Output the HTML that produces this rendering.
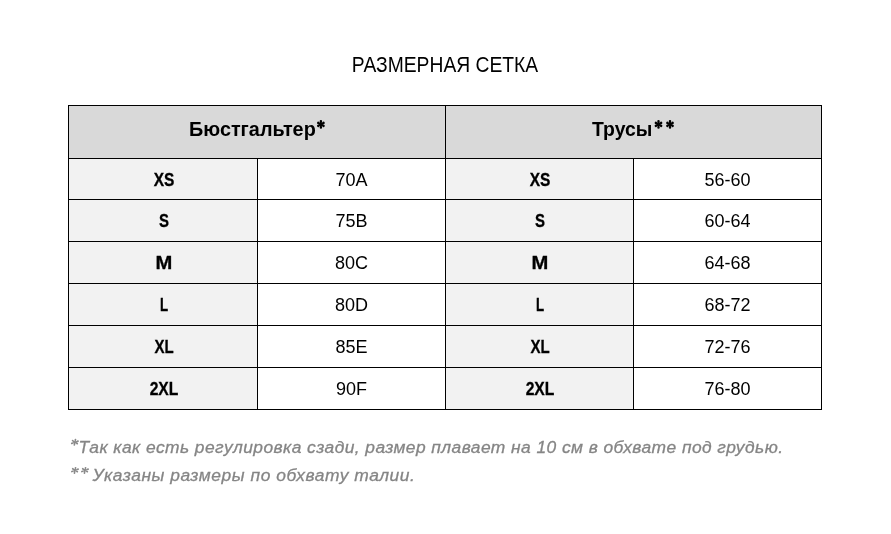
<!DOCTYPE html>
<html><head><meta charset="utf-8"><style>
html,body{margin:0;padding:0;background:#fff;width:891px;height:534px;overflow:hidden}
body{position:relative;font-family:"Liberation Sans",sans-serif;filter:grayscale(1)}
.t{position:absolute;white-space:nowrap}
.r{position:absolute}
.hl{position:absolute;height:1px;background:#000}
.vl{position:absolute;width:1px;background:#000}
svg{position:absolute;left:0;top:0}
</style></head><body>

<div class="r" style="left:69px;top:106px;width:376px;height:52px;background:#d9d9d9"></div>
<div class="r" style="left:446px;top:106px;width:375px;height:52px;background:#d9d9d9"></div>
<div class="r" style="left:69px;top:159px;width:188px;height:40px;background:#f2f2f2"></div>
<div class="r" style="left:69px;top:200px;width:188px;height:41px;background:#f2f2f2"></div>
<div class="r" style="left:69px;top:242px;width:188px;height:41px;background:#f2f2f2"></div>
<div class="r" style="left:69px;top:284px;width:188px;height:41px;background:#f2f2f2"></div>
<div class="r" style="left:69px;top:326px;width:188px;height:41px;background:#f2f2f2"></div>
<div class="r" style="left:69px;top:368px;width:188px;height:41px;background:#f2f2f2"></div>
<div class="r" style="left:446px;top:159px;width:187px;height:40px;background:#f2f2f2"></div>
<div class="r" style="left:446px;top:200px;width:187px;height:41px;background:#f2f2f2"></div>
<div class="r" style="left:446px;top:242px;width:187px;height:41px;background:#f2f2f2"></div>
<div class="r" style="left:446px;top:284px;width:187px;height:41px;background:#f2f2f2"></div>
<div class="r" style="left:446px;top:326px;width:187px;height:41px;background:#f2f2f2"></div>
<div class="r" style="left:446px;top:368px;width:187px;height:41px;background:#f2f2f2"></div>
<div class="hl" style="left:68px;top:105px;width:754px"></div>
<div class="hl" style="left:68px;top:158px;width:754px"></div>
<div class="hl" style="left:68px;top:199px;width:754px"></div>
<div class="hl" style="left:68px;top:241px;width:754px"></div>
<div class="hl" style="left:68px;top:283px;width:754px"></div>
<div class="hl" style="left:68px;top:325px;width:754px"></div>
<div class="hl" style="left:68px;top:367px;width:754px"></div>
<div class="hl" style="left:68px;top:409px;width:754px"></div>
<div class="vl" style="left:68px;top:105px;height:305px"></div>
<div class="vl" style="left:257px;top:158px;height:252px"></div>
<div class="vl" style="left:445px;top:105px;height:305px"></div>
<div class="vl" style="left:633px;top:158px;height:252px"></div>
<div class="vl" style="left:821px;top:105px;height:305px"></div>
<div class="t" style="left:244.80px;width:400px;top:54.38px;font-size:22px;line-height:22px;font-weight:normal;font-style:normal;color:#000;transform:scaleX(0.876);text-align:center;">РАЗМЕРНАЯ СЕТКА</div>
<div class="t" style="left:188.50px;top:118.56px;font-size:20.6px;line-height:20.6px;font-weight:bold;font-style:normal;color:#000;transform:scaleX(0.962);transform-origin:0 0;">Бюстгальтер</div>
<div class="t" style="left:591.70px;top:118.56px;font-size:20.6px;line-height:20.6px;font-weight:bold;font-style:normal;color:#000;transform:scaleX(0.941);transform-origin:0 0;">Трусы</div>
<div class="t" style="left:-36.30px;width:400px;top:170.76px;font-size:18px;line-height:18px;font-weight:bold;font-style:normal;color:#000;transform:scaleX(0.86);text-align:center;-webkit-text-stroke:0.3px #000">XS</div>
<div class="t" style="left:151.50px;width:400px;top:170.76px;font-size:18px;line-height:18px;font-weight:normal;font-style:normal;color:#000;text-align:center;">70A</div>
<div class="t" style="left:340.20px;width:400px;top:170.76px;font-size:18px;line-height:18px;font-weight:bold;font-style:normal;color:#000;transform:scaleX(0.86);text-align:center;-webkit-text-stroke:0.3px #000">XS</div>
<div class="t" style="left:527.50px;width:400px;top:170.76px;font-size:18px;line-height:18px;font-weight:normal;font-style:normal;color:#000;text-align:center;">56-60</div>
<div class="t" style="left:-36.30px;width:400px;top:211.76px;font-size:18px;line-height:18px;font-weight:bold;font-style:normal;color:#000;transform:scaleX(0.83);text-align:center;-webkit-text-stroke:0.3px #000">S</div>
<div class="t" style="left:151.50px;width:400px;top:211.76px;font-size:18px;line-height:18px;font-weight:normal;font-style:normal;color:#000;text-align:center;">75B</div>
<div class="t" style="left:340.20px;width:400px;top:211.76px;font-size:18px;line-height:18px;font-weight:bold;font-style:normal;color:#000;transform:scaleX(0.83);text-align:center;-webkit-text-stroke:0.3px #000">S</div>
<div class="t" style="left:527.50px;width:400px;top:211.76px;font-size:18px;line-height:18px;font-weight:normal;font-style:normal;color:#000;text-align:center;">60-64</div>
<div class="t" style="left:-36.30px;width:400px;top:253.76px;font-size:18px;line-height:18px;font-weight:bold;font-style:normal;color:#000;transform:scaleX(1.12);text-align:center;-webkit-text-stroke:0.3px #000">M</div>
<div class="t" style="left:151.50px;width:400px;top:253.76px;font-size:18px;line-height:18px;font-weight:normal;font-style:normal;color:#000;text-align:center;">80C</div>
<div class="t" style="left:340.20px;width:400px;top:253.76px;font-size:18px;line-height:18px;font-weight:bold;font-style:normal;color:#000;transform:scaleX(1.12);text-align:center;-webkit-text-stroke:0.3px #000">M</div>
<div class="t" style="left:527.50px;width:400px;top:253.76px;font-size:18px;line-height:18px;font-weight:normal;font-style:normal;color:#000;text-align:center;">64-68</div>
<div class="t" style="left:-36.30px;width:400px;top:295.76px;font-size:18px;line-height:18px;font-weight:bold;font-style:normal;color:#000;transform:scaleX(0.74);text-align:center;-webkit-text-stroke:0.3px #000">L</div>
<div class="t" style="left:151.50px;width:400px;top:295.76px;font-size:18px;line-height:18px;font-weight:normal;font-style:normal;color:#000;text-align:center;">80D</div>
<div class="t" style="left:340.20px;width:400px;top:295.76px;font-size:18px;line-height:18px;font-weight:bold;font-style:normal;color:#000;transform:scaleX(0.74);text-align:center;-webkit-text-stroke:0.3px #000">L</div>
<div class="t" style="left:527.50px;width:400px;top:295.76px;font-size:18px;line-height:18px;font-weight:normal;font-style:normal;color:#000;text-align:center;">68-72</div>
<div class="t" style="left:-36.30px;width:400px;top:337.76px;font-size:18px;line-height:18px;font-weight:bold;font-style:normal;color:#000;transform:scaleX(0.835);text-align:center;-webkit-text-stroke:0.3px #000">XL</div>
<div class="t" style="left:151.50px;width:400px;top:337.76px;font-size:18px;line-height:18px;font-weight:normal;font-style:normal;color:#000;text-align:center;">85E</div>
<div class="t" style="left:340.20px;width:400px;top:337.76px;font-size:18px;line-height:18px;font-weight:bold;font-style:normal;color:#000;transform:scaleX(0.835);text-align:center;-webkit-text-stroke:0.3px #000">XL</div>
<div class="t" style="left:527.50px;width:400px;top:337.76px;font-size:18px;line-height:18px;font-weight:normal;font-style:normal;color:#000;text-align:center;">72-76</div>
<div class="t" style="left:-36.30px;width:400px;top:379.76px;font-size:18px;line-height:18px;font-weight:bold;font-style:normal;color:#000;transform:scaleX(0.87);text-align:center;-webkit-text-stroke:0.3px #000">2XL</div>
<div class="t" style="left:151.50px;width:400px;top:379.76px;font-size:18px;line-height:18px;font-weight:normal;font-style:normal;color:#000;text-align:center;">90F</div>
<div class="t" style="left:340.20px;width:400px;top:379.76px;font-size:18px;line-height:18px;font-weight:bold;font-style:normal;color:#000;transform:scaleX(0.87);text-align:center;-webkit-text-stroke:0.3px #000">2XL</div>
<div class="t" style="left:527.50px;width:400px;top:379.76px;font-size:18px;line-height:18px;font-weight:normal;font-style:normal;color:#000;text-align:center;">76-80</div>
<div class="t" style="left:78.60px;top:439.27px;font-size:17.4px;line-height:17.4px;font-weight:normal;font-style:italic;color:#858585;letter-spacing:0.437px;-webkit-text-stroke:0.3px #858585">Так как есть регулировка сзади, размер плавает на 10 см в обхвате под грудью.</div>
<div class="t" style="left:92.60px;top:467.27px;font-size:17.4px;line-height:17.4px;font-weight:normal;font-style:italic;color:#858585;letter-spacing:0.562px;-webkit-text-stroke:0.3px #858585">Указаны размеры по обхвату талии.</div>
<svg width="891" height="534" viewBox="0 0 891 534"><path d="M321.40 124.40L322.15 121.30A1.25 1.25 0 0 0 319.65 121.30L320.40 124.40ZM321.15 124.83L324.21 123.93A1.25 1.25 0 0 0 322.96 121.77L320.65 123.97ZM320.65 124.83L322.96 127.03A1.25 1.25 0 0 0 324.21 124.87L321.15 123.97ZM320.40 124.40L319.65 127.50A1.25 1.25 0 0 0 322.15 127.50L321.40 124.40ZM320.65 123.97L317.59 124.87A1.25 1.25 0 0 0 318.84 127.03L321.15 124.83ZM321.15 123.97L318.84 121.77A1.25 1.25 0 0 0 317.59 123.93L320.65 124.83Z" fill="#000"/><path d="M659.00 124.40L659.75 121.30A1.25 1.25 0 0 0 657.25 121.30L658.00 124.40ZM658.75 124.83L661.81 123.93A1.25 1.25 0 0 0 660.56 121.77L658.25 123.97ZM658.25 124.83L660.56 127.03A1.25 1.25 0 0 0 661.81 124.87L658.75 123.97ZM658.00 124.40L657.25 127.50A1.25 1.25 0 0 0 659.75 127.50L659.00 124.40ZM658.25 123.97L655.19 124.87A1.25 1.25 0 0 0 656.44 127.03L658.75 124.83ZM658.75 123.97L656.44 121.77A1.25 1.25 0 0 0 655.19 123.93L658.25 124.83Z" fill="#000"/><path d="M670.50 124.40L671.25 121.30A1.25 1.25 0 0 0 668.75 121.30L669.50 124.40ZM670.25 124.83L673.31 123.93A1.25 1.25 0 0 0 672.06 121.77L669.75 123.97ZM669.75 124.83L672.06 127.03A1.25 1.25 0 0 0 673.31 124.87L670.25 123.97ZM669.50 124.40L668.75 127.50A1.25 1.25 0 0 0 671.25 127.50L670.50 124.40ZM669.75 123.97L666.69 124.87A1.25 1.25 0 0 0 667.94 127.03L670.25 124.83ZM670.25 123.97L667.94 121.77A1.25 1.25 0 0 0 666.69 123.93L669.75 124.83Z" fill="#000"/><path d="M75.29 442.48L76.33 439.83A0.9 0.9 0 0 0 74.57 439.47L74.51 442.32ZM75.15 442.08L73.15 439.89A0.9 0.9 0 0 0 72.05 441.31L74.65 442.72ZM75.05 442.77L78.35 441.93A0.9 0.9 0 0 0 77.65 440.27L74.75 442.03ZM74.78 442.02L71.52 442.54A0.9 0.9 0 0 0 72.08 444.26L75.02 442.78ZM74.72 442.76L76.90 444.40A0.9 0.9 0 0 0 77.70 442.80L75.08 442.04ZM74.51 442.31L73.47 444.71A0.9 0.9 0 0 0 75.23 445.09L75.29 442.49Z" fill="#8a8a8a"/><path d="M75.39 470.58L76.43 467.93A0.9 0.9 0 0 0 74.67 467.57L74.61 470.42ZM75.25 470.18L73.25 467.99A0.9 0.9 0 0 0 72.15 469.41L74.75 470.82ZM75.15 470.87L78.45 470.03A0.9 0.9 0 0 0 77.75 468.37L74.85 470.13ZM74.88 470.12L71.62 470.64A0.9 0.9 0 0 0 72.18 472.36L75.12 470.88ZM74.82 470.86L77.00 472.50A0.9 0.9 0 0 0 77.80 470.90L75.18 470.14ZM74.61 470.41L73.57 472.81A0.9 0.9 0 0 0 75.33 473.19L75.39 470.59Z" fill="#8a8a8a"/><path d="M85.39 470.58L86.43 467.93A0.9 0.9 0 0 0 84.67 467.57L84.61 470.42ZM85.25 470.18L83.25 467.99A0.9 0.9 0 0 0 82.15 469.41L84.75 470.82ZM85.15 470.87L88.45 470.03A0.9 0.9 0 0 0 87.75 468.37L84.85 470.13ZM84.88 470.12L81.62 470.64A0.9 0.9 0 0 0 82.18 472.36L85.12 470.88ZM84.82 470.86L87.00 472.50A0.9 0.9 0 0 0 87.80 470.90L85.18 470.14ZM84.61 470.41L83.57 472.81A0.9 0.9 0 0 0 85.33 473.19L85.39 470.59Z" fill="#8a8a8a"/></svg>
</body></html>
